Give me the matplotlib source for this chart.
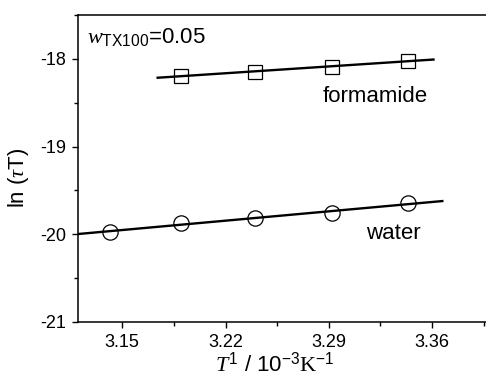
import numpy as np
import matplotlib
matplotlib.use("Agg")
import matplotlib.pyplot as plt
from matplotlib.ticker import MultipleLocator, FormatStrFormatter

# values
inv_T_form = [3.190, 3.240, 3.292, 3.344]
ln_tauT_form = [-18.19, -18.15, -18.09, -18.02]

inv_T_water = [3.142, 3.190, 3.240, 3.292, 3.344]
ln_tauT_water = [-19.97, -19.87, -19.82, -19.76, -19.64]

# ranges over which the linear fits are drawn
fit_range_form = [3.174, 3.361]
fit_range_water = [3.120, 3.367]

x_ticks = [3.15, 3.22, 3.29, 3.36]
y_ticks = [-21, -20, -19, -18]

plt.rcParams["font.family"] = ["Liberation Sans", "DejaVu Sans"]
plt.rcParams["axes.unicode_minus"] = False
plt.rcParams["mathtext.fontset"] = "custom"
plt.rcParams["mathtext.rm"] = "Liberation Sans"
plt.rcParams["mathtext.it"] = "Liberation Serif:italic"
plt.rcParams["mathtext.sf"] = "Liberation Serif"

fig = plt.figure(figsize=(4.86, 3.77), dpi=100)
ax = fig.add_axes([0.1605, 0.1459, 0.8498, 0.8143])

for xs, ys, fr, mk, ms in [
    (inv_T_form, ln_tauT_form, fit_range_form, "s", 9.5),
    (inv_T_water, ln_tauT_water, fit_range_water, "o", 11),
]:
    k, b = np.polyfit(xs, ys, 1)
    xf = np.array(fr)
    ax.plot(xf, k * xf + b, color="black", lw=1.7, zorder=2)
    ax.plot(xs, ys, linestyle="none", marker=mk, ms=ms, mfc="none",
            mec="black", mew=0.9, zorder=3)

ax.set_xlim(3.12, 3.40)
ax.set_ylim(-21, -17.5)
ax.set_xticks(x_ticks)
ax.set_yticks(y_ticks)
ax.xaxis.set_major_formatter(FormatStrFormatter("%.2f"))
ax.yaxis.set_major_formatter(FormatStrFormatter("%d"))
ax.xaxis.set_minor_locator(MultipleLocator(0.035))
ax.yaxis.set_minor_locator(MultipleLocator(0.5))

ax.tick_params(which="major", direction="out", length=4.5, width=1.0,
               labelsize=13, pad=4)
ax.tick_params(which="minor", direction="out", length=3, width=1.0)
for s in ax.spines.values():
    s.set_linewidth(1.1)

ax.set_xlabel(r"$\mathit{T}^{1}$ / 10$^{-3}$$\mathsf{K}^{-1}$", fontsize=16)
ax.xaxis.set_label_coords(0.477, -0.098)
ax.set_ylabel(r"ln ($\tau$T)", fontsize=16)
ax.yaxis.set_label_coords(-0.115, 0.47)

ax.text(0.022, 0.928, r"$\mathit{w}_{\mathrm{TX100}}$=0.05", transform=ax.transAxes,
        fontsize=16, ha="left", va="center")
ax.text(3.3214, -18.433, "formamide", fontsize=16, ha="center", va="center")
ax.text(3.3336, -19.99, "water", fontsize=16, ha="center", va="center")

fig.savefig("out.png", dpi=100)
